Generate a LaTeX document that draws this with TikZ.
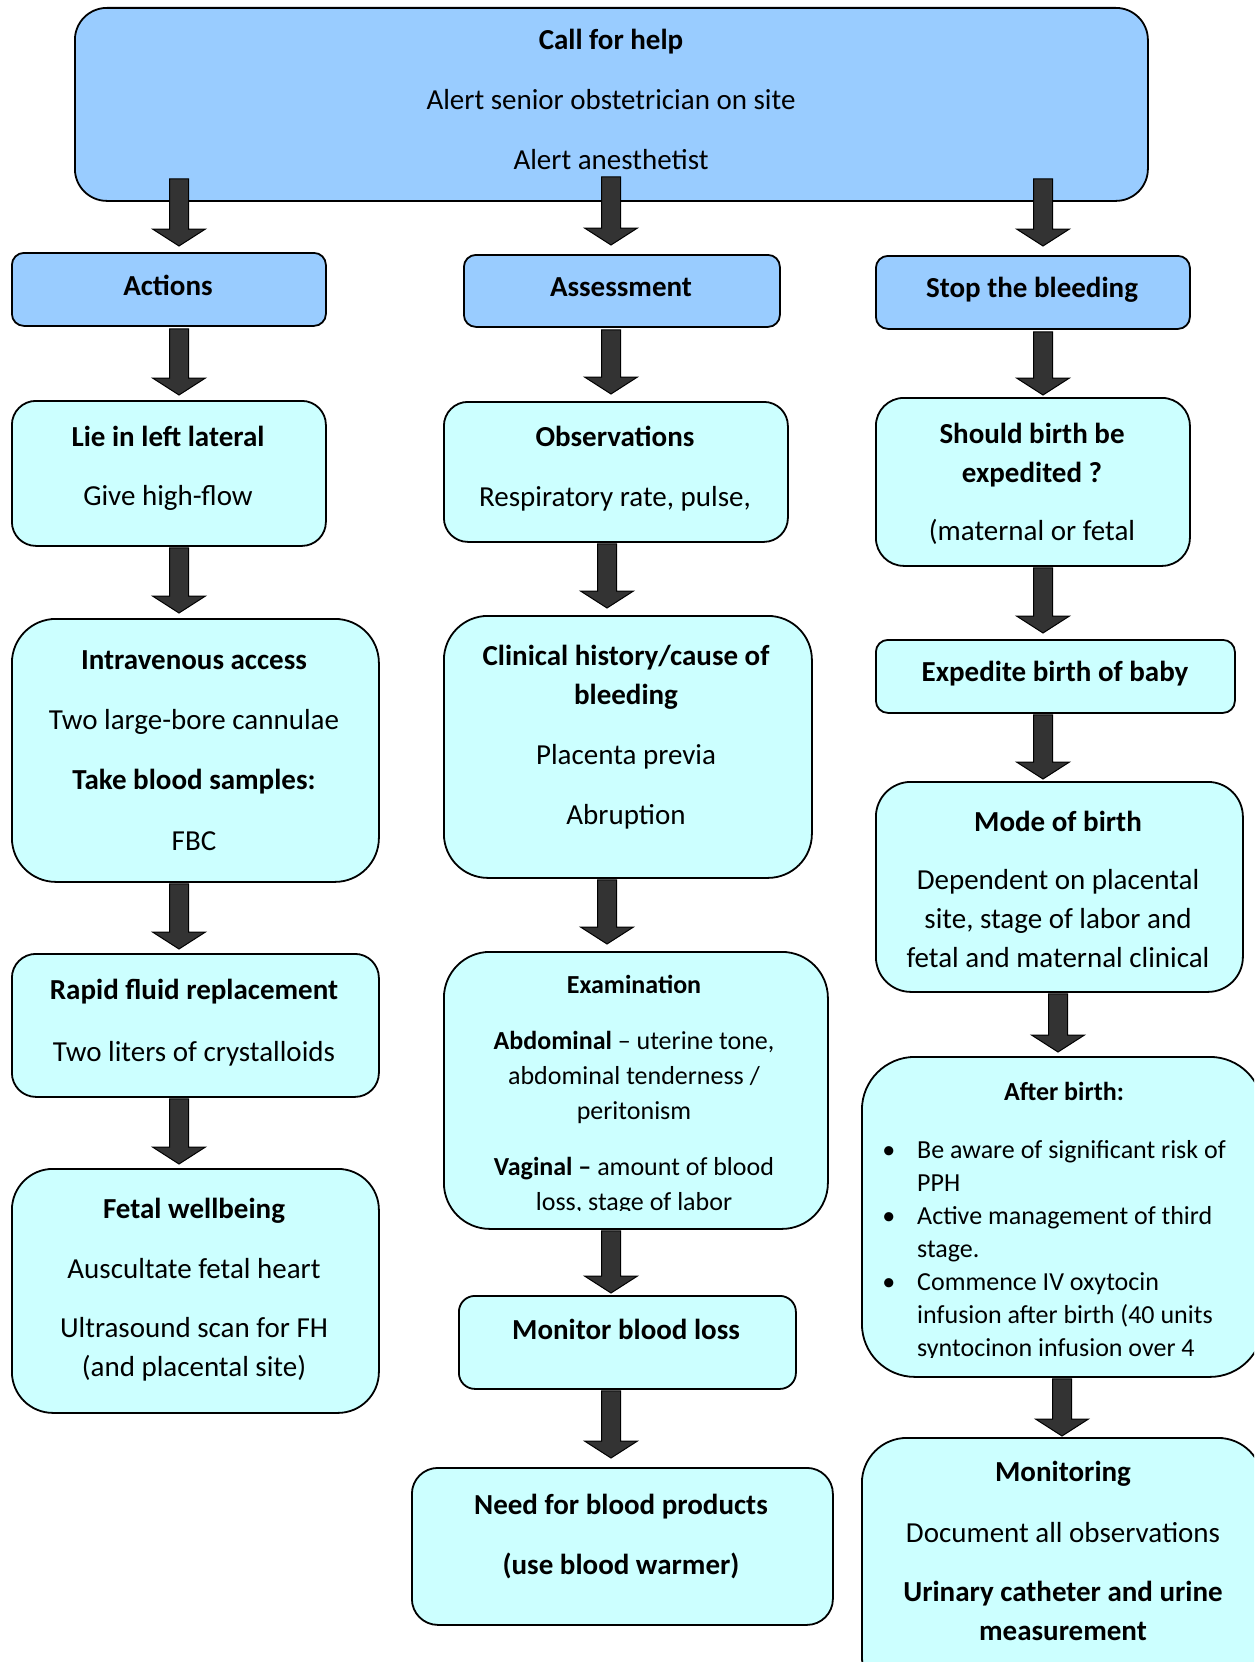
\documentclass[tikz,border=0pt]{standalone}
\usepackage{fontspec}
\setmainfont{Carlito}
\usetikzlibrary{calc}

\definecolor{hdrblue}{HTML}{99CCFF}
\definecolor{boxcyan}{HTML}{CCFFFF}
\definecolor{arrowgray}{HTML}{333333}

\tikzset{
  hdr/.style={draw=black, line width=1.8pt, fill=hdrblue, inner sep=0pt, anchor=north west},
  stepbox/.style={draw=black, line width=1.8pt, fill=boxcyan, inner sep=0pt, anchor=north west},
  txt/.style={align=center, inner sep=0pt, anchor=north, font=\fontsize{29}{39}\selectfont},
  smalltxt/.style={align=center, inner sep=0pt, anchor=north, font=\fontsize{26}{35}\selectfont},
  listtxt/.style={align=left, inner sep=0pt, anchor=north west, font=\fontsize{26}{33}\selectfont},
  blockarrow/.style={fill=arrowgray, draw=black, line width=1pt, line join=miter},
}

% rounded panel: style, name, left, top, width, height, corner radius
\newcommand\panel[7]{%
  \node[#1, rounded corners=#7pt, minimum width=#5pt, minimum height=#6pt] (#2) at (#3,#4) {};}

% thick block arrow: source, target, x, shaft start above source bottom, gap above target
\newcommand\flowarrow[5]{%
  \draw[blockarrow] let \p1=(#1.south), \p2=(#2.north) in
    ({#3pt-9.5pt},{\y1+#4pt}) -- ({#3pt+9.5pt},{\y1+#4pt})
    -- ({#3pt+9.5pt},{\y2+#5pt+17pt}) -- ({#3pt+26.5pt},{\y2+#5pt+17pt})
    -- ({#3pt},{\y2+#5pt})
    -- ({#3pt-26.5pt},{\y2+#5pt+17pt}) -- ({#3pt-9.5pt},{\y2+#5pt+17pt}) -- cycle;}

\newcommand\bul{\llap{\textbullet\hspace{22pt}}}

\begin{document}
\begin{tikzpicture}[x=1pt, y=-1pt]
\useasboundingbox (0,0) rectangle (1254,1662);
\fill[white] (0,0) rectangle (1254,1662);
\clip (0,0) rectangle (1254,1662);

% ---- boxes ----
\panel{hdr}{top}{74}{7}{1073}{193}{32}
\panel{hdr}{act}{11}{252}{314}{73}{12}
\panel{hdr}{ass}{463}{254}{316}{72}{12}
\panel{hdr}{stop}{875}{255}{314}{73}{12}

\panel{stepbox}{lie}{11}{400}{314}{145}{24}
\panel{stepbox}{obs}{443}{401}{344}{140}{24}
\panel{stepbox}{should}{875}{397}{314}{168}{28}

\panel{stepbox}{iv}{11}{618}{367}{263}{44}
\panel{stepbox}{clin}{443}{615}{368}{262}{44}
\panel{stepbox}{exped}{875}{639}{359}{73}{12}

\panel{stepbox}{mode}{875}{781}{367}{210}{35}

\panel{stepbox}{rapid}{11}{953}{367}{143}{24}
\panel{stepbox}{exam}{443}{951}{384}{277}{46}
\panel{stepbox}{after}{861}{1056}{401}{320}{53}

\panel{stepbox}{fetal}{11}{1168}{367}{244}{41}
\panel{stepbox}{monb}{458}{1295}{337}{93}{16}
\panel{stepbox}{need}{411}{1467}{421}{157}{26}
\panel{stepbox}{moni}{861}{1437}{401}{263}{45}

% ---- texts ----
\node[txt] (top-t) at (611,{49-27.3}) {\strut\textbf{Call for help}\\[21pt] Alert senior obstetrician on site\\[21pt] Alert anesthetist};
\node[txt] (act-t) at (168,{295-27.3}) {\strut\textbf{Actions}};
\node[txt] (ass-t) at (621,{296-27.3}) {\strut\textbf{Assessment}};
\node[txt] (stop-t) at (1032,{297-27.3}) {\strut\textbf{Stop the bleeding}};

\node[txt] (lie-t) at (168,{446-27.3}) {\strut\textbf{Lie in left lateral}\\[20pt] Give high-flow};
\node[txt] (obs-t) at (615,{446-27.3}) {\strut\textbf{Observations}\\[21pt] Respiratory rate, pulse,};
\node[txt] (should-t) at (1032,{443-27.3}) {\strut\textbf{Should birth be}\\ \textbf{expedited ?}\\[19pt] (maternal or fetal};

\node[txt] (iv-t) at (194,{669-27.3}) {\strut\textbf{Intravenous access}\\[21pt] Two large-bore cannulae\\[21pt] \textbf{Take blood samples:}\\[22pt] FBC};
\node[txt] (clin-t) at (626,{665-27.3}) {\strut\textbf{Clinical history/cause of}\\ \textbf{bleeding}\\[21pt] Placenta previa\\[21pt] Abruption};
\node[txt] (exped-t) at (1055,{681-27.3}) {\strut\textbf{Expedite birth of baby}};

\node[txt] (mode-t) at (1058,{831-27.3}) {\strut\textbf{Mode of birth}\\[19pt] Dependent on placental\\ site, stage of labor and\\ fetal and maternal clinical};

\node[txt] (rapid-t) at (194,{999-27.3}) {\strut\textbf{Rapid fluid replacement}\\[23pt] Two liters of crystalloids};

\begin{scope}
  \clip (443,951) rectangle (827,1210);
  \node[smalltxt] (exam-t) at (634,{993-24.5}) {\strut\textbf{Examination}\\[21pt] \textbf{Abdominal} – uterine tone,\\ abdominal tenderness /\\ peritonism\\[21pt] \textbf{Vaginal –} amount of blood\\ loss, stage of labor};
\end{scope}

\node[smalltxt] (after-t) at (1064,{1100-24.5}) {\strut\textbf{After birth:}};
\begin{scope}
  \clip (861,1056) rectangle (1262,1357);
  \node[listtxt] (after-l) at (917,{1158-23.1}) {\strut\bul Be aware of significant risk of\\ PPH\\ \bul Active management of third\\ stage.\\ \bul Commence IV oxytocin\\ infusion after birth (40 units\\ syntocinon infusion over 4};
\end{scope}

\node[txt] (fetal-t) at (194,{1218-27.3}) {\strut\textbf{Fetal wellbeing}\\[21pt] Auscultate fetal heart\\[20pt] Ultrasound scan for FH\\ (and placental site)};
\node[txt] (monb-t) at (626,{1339-27.3}) {\strut\textbf{Monitor blood loss}};
\node[txt] (need-t) at (621,{1514-27.3}) {\strut\textbf{Need for blood products}\\[21pt] \textbf{(use blood warmer)}};
\node[txt] (moni-t) at (1063,{1481-27.3}) {\strut\textbf{Monitoring}\\[22pt] Document all observations\\[20pt] \textbf{Urinary catheter and urine}\\ \textbf{measurement}};

% ---- arrows ----
\flowarrow{top}{act}{179}{23}{6}
\flowarrow{top}{ass}{611}{25}{9}
\flowarrow{top}{stop}{1043}{23}{9}
\flowarrow{act}{lie}{179}{-2}{5}
\flowarrow{ass}{obs}{611}{-2}{7}
\flowarrow{stop}{should}{1043}{-2}{2}
\flowarrow{lie}{iv}{179}{-1}{5}
\flowarrow{obs}{clin}{607}{-1}{7}
\flowarrow{should}{exped}{1043}{-1}{6}
\flowarrow{iv}{rapid}{179}{-1}{4}
\flowarrow{clin}{exam}{607}{-1}{7}
\flowarrow{exped}{mode}{1043}{-1}{2}
\flowarrow{rapid}{fetal}{179}{-1}{4}
\flowarrow{exam}{monb}{611}{-1}{2}
\flowarrow{mode}{after}{1058}{-1}{4}
\flowarrow{monb}{need}{611}{-1}{9}
\flowarrow{after}{moni}{1062}{-1}{1}
\end{tikzpicture}
\end{document}
